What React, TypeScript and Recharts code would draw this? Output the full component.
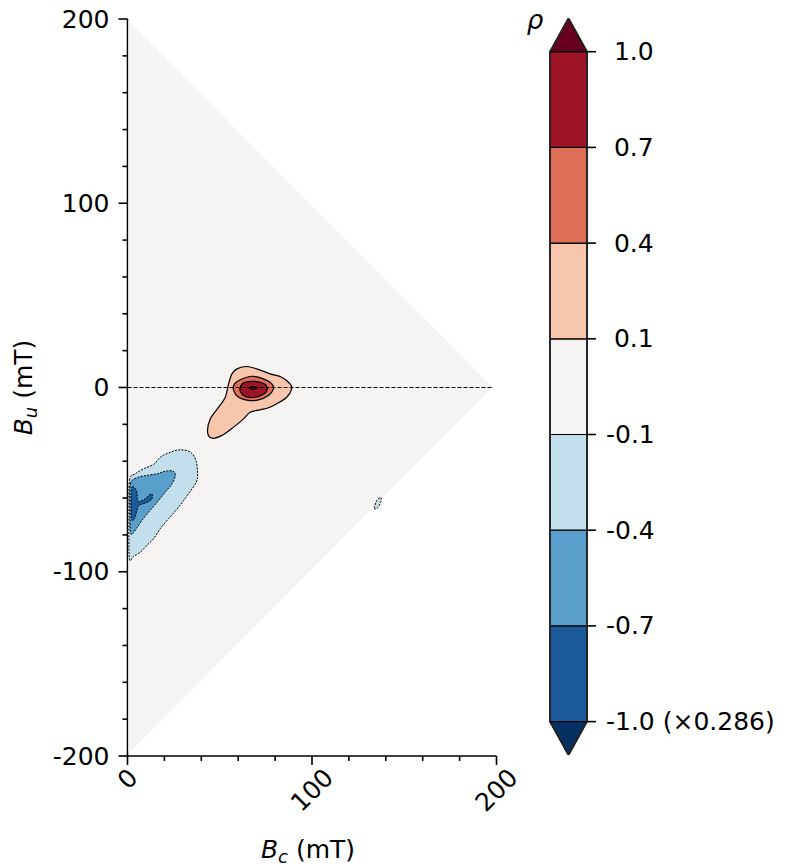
import { Scatter, ScatterChart, XAxis, YAxis } from "recharts";

const FONT = '"DejaVu Sans", sans-serif';

// FORC support region and the Bu = 0 guide (Bc, Bu in mT)
const supportTriangle = [[0.5, 199], [198, 0], [0.5, -198.5]];
const zeroLine = [[0, 0], [198, 0]];

// positive contours
const posOuter = [
  [59.3, 10.1], [64.7, 11.4], [70.1, 10.1], [77.3, 7.4], [83.6, 5.6], [88.1, 2.0],
  [89.0, -0.7], [86.3, -5.3], [80.9, -8.8], [76.4, -11.0], [71.9, -12.1], [66.5, -13.4],
  [62.9, -17.0], [57.5, -21.5], [51.2, -26.0], [45.8, -27.5], [43.4, -24.2], [44.9, -17.0],
  [49.4, -10.7], [53.0, -5.3], [54.8, 2.0], [56.6, 7.4],
];
const posMid = [
  [61.1, 4.2], [67.4, 6.1], [73.7, 4.7], [78.2, 2.0], [79.1, -0.7], [76.4, -4.3],
  [71.0, -6.7], [65.6, -7.0], [60.2, -5.3], [57.5, -1.6], [58.0, 2.0],
];
const posInner = [
  [63.8, 2.9], [69.2, 3.3], [74.1, 2.0], [75.8, -0.7], [74.1, -3.4], [69.2, -5.3],
  [63.8, -4.9], [61.1, -2.0], [61.5, 1.1],
];
const posPeak = [[66.2, -0.4], [68.0, 0.5], [70.2, -0.3], [68.2, -1.1]];

// negative contours
const negOuter = [
  [1.1, -50.4], [4.3, -46.8], [8.8, -44.1], [14.2, -41.7], [17.8, -37.8], [23.2, -35.1],
  [28.6, -33.8], [34.1, -35.1], [37.1, -39.6], [38.0, -46.8], [37.3, -51.3], [33.1, -57.6],
  [27.7, -64.9], [22.3, -71.2], [17.8, -76.6], [14.2, -82.0], [10.6, -85.6], [7.0, -89.3],
  [3.4, -91.6], [1.0, -92.5], [0.8, -70],
];
const negMid = [
  [1.6, -52.2], [5.2, -48.9], [10.6, -47.7], [16.1, -46.8], [20.5, -45.4], [24.7, -45.4],
  [25.9, -47.7], [24.2, -52.2], [20.5, -56.7], [16.1, -62.2], [11.5, -67.6], [7.9, -72.1],
  [5.2, -76.0], [3.1, -79.0], [1.6, -78.4], [1.3, -65],
];
const negInner = [
  [2.5, -54.0], [4.3, -54.9], [5.2, -57.6], [5.6, -61.6], [8.8, -60.9], [12.1, -58.2],
  [13.4, -58.0], [13.0, -60.9], [9.7, -62.7], [6.1, -64.0], [4.9, -67.6], [3.8, -71.2],
  [2.3, -71.7], [2.0, -64.9], [2.0, -57.6],
];
const negSpeck = [[133.8, -65.5], [135.2, -61.2], [137.3, -59.8], [137.2, -62.3], [135.3, -65.6]];

// axes
const xTicks = [0, 20, 40, 60, 80, 100, 120, 140, 160, 180, 200];
const yTicks = [-200, -180, -160, -140, -120, -100, -80, -60, -40, -20, 0, 20, 40, 60, 80, 100, 120, 140, 160, 180, 200];

// colorbar (uniform spacing, bottom to top)
const cbLabels = ["-1.0 (\u00d70.286)", "-0.7", "-0.4", "-0.1", "\u00a00.1", "\u00a00.4", "\u00a00.7", "\u00a01.0"];
const cbColors = ["#1b5a9b", "#589fcb", "#c3dfec", "#f6f4f2", "#f8c5ad", "#dd6f58", "#9e1427"];
const cbLow = "#053061";
const cbHigh = "#67001f";
const cbExtend = 0.349;

const toXY = (pts: number[][]) => pts.map(([x, y]) => ({ x, y }));
const noMarker = () => <g />;

// closed Catmull-Rom curve (d3 curve factory interface), passes through every vertex
const smoothClosed = (context: any) => {
  let pts: number[][] = [];
  return {
    areaStart() {},
    areaEnd() {},
    lineStart() {
      pts = [];
    },
    point(x: number, y: number) {
      pts.push([x, y]);
    },
    lineEnd() {
      const n = pts.length;
      if (!n) return;
      context.moveTo(pts[0][0], pts[0][1]);
      for (let i = 0; i < n; i++) {
        const p0 = pts[(i - 1 + n) % n];
        const p1 = pts[i];
        const p2 = pts[(i + 1) % n];
        const p3 = pts[(i + 2) % n];
        context.bezierCurveTo(
          p1[0] + (p2[0] - p0[0]) / 6, p1[1] + (p2[1] - p0[1]) / 6,
          p2[0] - (p3[0] - p1[0]) / 6, p2[1] - (p3[1] - p1[1]) / 6,
          p2[0], p2[1],
        );
      }
      context.closePath();
    },
  };
};

const contours = [
  { pts: posOuter, fill: cbColors[4], dash: undefined },
  { pts: posMid, fill: cbColors[5], dash: undefined },
  { pts: posInner, fill: cbColors[6], dash: undefined },
  { pts: posPeak, fill: cbHigh, dash: undefined },
  { pts: negOuter, fill: cbColors[2], dash: "2 1.3" },
  { pts: negMid, fill: cbColors[1], dash: "2 1.3" },
  { pts: negInner, fill: cbColors[0], dash: "2 1.3" },
  { pts: negSpeck, fill: cbColors[2], dash: "2 1.3" },
];

const XTick = ({ x, y, payload }: any) => {
  const v = payload.value;
  const major = v % 100 === 0;
  const label = String(v);
  const half = (label.length * 15.9 - 3 + 18) * 0.3536;
  const cy = y + 12 + half;
  return (
    <g>
      <line x1={x} x2={x} y1={y} y2={y + (major ? 9 : 5)} stroke="#000" strokeWidth={1.6} />
      {major && (
        <text x={x} y={cy} textAnchor="middle" dominantBaseline="central" fontSize={25}
          fontFamily={FONT} fill="#000" transform={`rotate(-45, ${x}, ${cy})`}>
          {label}
        </text>
      )}
    </g>
  );
};

const YTick = ({ x, y, payload }: any) => {
  const v = payload.value;
  const major = v % 100 === 0;
  return (
    <g>
      <line x1={x - (major ? 9 : 5)} x2={x} y1={y} y2={y} stroke="#000" strokeWidth={1.6} />
      {major && (
        <text x={x - 18} y={y} textAnchor="end" dominantBaseline="central" fontSize={25}
          fontFamily={FONT} fill="#000">
          {v}
        </text>
      )}
    </g>
  );
};

const CbTick = ({ x, y, payload }: any) => (
  <g>
    <line x1={x} x2={x + 9} y1={y} y2={y} stroke="#000" strokeWidth={1.6} />
    <text x={x + 19} y={y} textAnchor="start" dominantBaseline="central" fontSize={25}
      fontFamily={FONT} fill="#000">
      {cbLabels[payload.value]}
    </text>
  </g>
);

const XTitle = ({ viewBox }: any) => (
  <text x={viewBox.x + viewBox.width / 2 - 4} y={viewBox.y + 102} textAnchor="middle"
    fontSize={25} fontFamily={FONT} fill="#000">
    <tspan fontStyle="italic">B</tspan>
    <tspan fontStyle="italic" fontSize={18} dy={5}>c</tspan>
    <tspan dy={-5}> (mT)</tspan>
  </text>
);

const YTitle = ({ viewBox }: any) => {
  const cx = 32;
  const cy = viewBox.y + viewBox.height / 2;
  return (
    <text x={cx} y={cy} textAnchor="middle" fontSize={25} fontFamily={FONT} fill="#000"
      transform={`rotate(-90, ${cx}, ${cy})`}>
      <tspan fontStyle="italic">B</tspan>
      <tspan fontStyle="italic" fontSize={18} dy={5}>u</tspan>
      <tspan dy={-5}> (mT)</tspan>
    </text>
  );
};

const RhoTitle = () => (
  <text x={15} y={29} textAnchor="middle" fontSize={26} fontFamily={FONT} fontStyle="italic" fill="#000">
    ρ
  </text>
);

const ForcPlot = () => (
  <ScatterChart width={560} height={866} margin={{ top: 19, right: 63.5, bottom: 0, left: 0 }}>
    <XAxis dataKey="x" type="number" domain={[0, 200]} ticks={xTicks} interval={0} height={110}
      tickSize={0} tickMargin={0} tickLine={false} tick={<XTick />}
      axisLine={{ stroke: "#000", strokeWidth: 1.6 }} label={<XTitle />} allowDataOverflow />
    <YAxis dataKey="y" type="number" domain={[-200, 200]} ticks={yTicks} interval={0} width={127.5}
      tickSize={0} tickMargin={0} tickLine={false} tick={<YTick />}
      axisLine={{ stroke: "#000", strokeWidth: 1.6 }} label={<YTitle />} allowDataOverflow />
    <XAxis xAxisId="top" orientation="top" type="number" domain={[0, 200]} height={0}
      tick={false} tickLine={false} axisLine={{ stroke: "#000", strokeWidth: 1.6 }} />
    <YAxis yAxisId="right" orientation="right" type="number" domain={[-200, 200]} width={0}
      tick={false} tickLine={false} axisLine={{ stroke: "#000", strokeWidth: 1.6 }} />
    <Scatter data={toXY(supportTriangle)} fill="#f6f4f2" shape={noMarker}
      line={{ fill: "#f6f4f2", stroke: "none" }} lineType="joint" lineJointType="linearClosed"
      isAnimationActive={false} />
    {contours.map((c, i) => (
      <Scatter key={i} data={toXY(c.pts)} fill={c.fill} shape={noMarker}
        line={{ fill: c.fill, stroke: "#000", strokeWidth: c.dash ? 1 : 1.2, strokeDasharray: c.dash }}
        lineType="joint" lineJointType={smoothClosed as any} isAnimationActive={false} />
    ))}
    <Scatter data={toXY(zeroLine)} fill="#000" shape={noMarker}
      line={{ fill: "none", stroke: "#000", strokeWidth: 1.1, strokeDasharray: "4 2" }}
      lineType="joint" lineJointType="linear" isAnimationActive={false} />
  </ScatterChart>
);

const bandIdx = cbColors.map((_, i) => i);
const cbTicks = cbLabels.map((_, i) => i);
const top = cbColors.length;

const ColorBar = () => (
  <ScatterChart width={267} height={866} margin={{ top: 18.3, right: 0, bottom: 111, left: 30 }}>
    <XAxis dataKey="x" type="number" domain={[0, 1]} hide />
    <YAxis dataKey="y" type="number" orientation="right" domain={[-cbExtend, top + cbExtend]}
      ticks={cbTicks} interval={0} width={200} tickSize={0} tickMargin={0} tickLine={false}
      axisLine={false} tick={<CbTick />} label={<RhoTitle />} allowDataOverflow />
    {bandIdx.map((i) => (
      <Scatter key={i} data={toXY([[0, i], [1, i], [1, i + 1], [0, i + 1]])} fill={cbColors[i]}
        shape={noMarker} line={{ fill: cbColors[i], stroke: "#000", strokeWidth: 1.2 }}
        lineType="joint" lineJointType="linearClosed" isAnimationActive={false} />
    ))}
    <Scatter data={toXY([[0, top], [1, top], [0.5, top + cbExtend]])} fill={cbHigh} shape={noMarker}
      line={{ fill: cbHigh, stroke: "#000", strokeWidth: 1.2 }} lineType="joint"
      lineJointType="linearClosed" isAnimationActive={false} />
    <Scatter data={toXY([[0, 0], [1, 0], [0.5, -cbExtend]])} fill={cbLow} shape={noMarker}
      line={{ fill: cbLow, stroke: "#000", strokeWidth: 1.2 }} lineType="joint"
      lineJointType="linearClosed" isAnimationActive={false} />
    <Scatter
      data={toXY([[0, 0], [0.5, -cbExtend], [1, 0], [1, top], [0.5, top + cbExtend], [0, top]])}
      fill="none" shape={noMarker} line={{ fill: "none", stroke: "#222", strokeWidth: 1.8 }}
      lineType="joint" lineJointType="linearClosed" isAnimationActive={false} />
  </ScatterChart>
);

export default function App() {
  return (
    <div style={{ position: "absolute", left: 0, top: 0, width: 787, height: 866, background: "#fff" }}>
      <div style={{ position: "absolute", left: 0, top: 0 }}>
        <ForcPlot />
      </div>
      <div style={{ position: "absolute", left: 520, top: 0 }}>
        <ColorBar />
      </div>
    </div>
  );
}
